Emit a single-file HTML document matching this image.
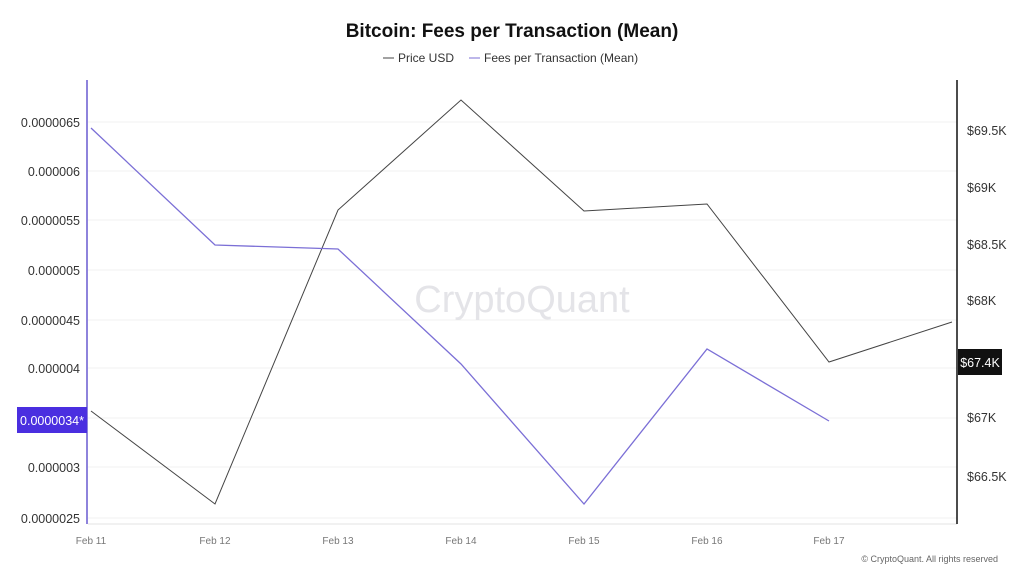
<!DOCTYPE html>
<html><head><meta charset="utf-8"><style>
body{margin:0;width:1024px;height:576px;background:#fff;overflow:hidden;font-family:"Liberation Sans",sans-serif}
</style></head><body>
<svg width="1024" height="576" xmlns="http://www.w3.org/2000/svg" font-family="Liberation Sans, sans-serif">
<text x="512" y="37" text-anchor="middle" font-size="19" font-weight="bold" fill="#111">Bitcoin: Fees per Transaction (Mean)</text>
<line x1="383" y1="58" x2="394" y2="58" stroke="#444" stroke-width="1"/>
<text x="398" y="62" font-size="12" fill="#333">Price USD</text>
<line x1="469" y1="58" x2="480" y2="58" stroke="#7b6fd6" stroke-width="1"/>
<text x="484" y="62" font-size="12" fill="#333">Fees per Transaction (Mean)</text>
<g stroke="#f0f0f0" stroke-width="1">
<line x1="88" y1="122" x2="957" y2="122"/><line x1="88" y1="171" x2="957" y2="171"/>
<line x1="88" y1="220" x2="957" y2="220"/><line x1="88" y1="270" x2="957" y2="270"/>
<line x1="88" y1="320" x2="957" y2="320"/><line x1="88" y1="368" x2="957" y2="368"/>
<line x1="88" y1="418" x2="957" y2="418"/><line x1="88" y1="467" x2="957" y2="467"/>
<line x1="88" y1="518" x2="957" y2="518"/>
</g>
<line x1="88" y1="524" x2="957" y2="524" stroke="#e3e3e3"/>
<line x1="87" y1="80" x2="87" y2="524" stroke="#8e83dc" stroke-width="2"/>
<line x1="957" y1="80" x2="957" y2="524" stroke="#111" stroke-width="1.5"/>
<text x="522" y="312" text-anchor="middle" font-size="38" fill="#e4e4e8">CryptoQuant</text>
<g font-size="12.5" fill="#333" text-anchor="end">
<text x="80" y="127">0.0000065</text><text x="80" y="176">0.000006</text>
<text x="80" y="225">0.0000055</text><text x="80" y="275">0.000005</text>
<text x="80" y="325">0.0000045</text><text x="80" y="373">0.000004</text>
<text x="80" y="472">0.000003</text><text x="80" y="523">0.0000025</text>
</g>
<g font-size="12.5" fill="#333">
<text x="967" y="135">$69.5K</text><text x="967" y="192">$69K</text>
<text x="967" y="249">$68.5K</text><text x="967" y="305">$68K</text>
<text x="967" y="422">$67K</text><text x="967" y="481">$66.5K</text>
</g>
<g font-size="10" fill="#777" text-anchor="middle">
<text x="91" y="544">Feb 11</text><text x="215" y="544">Feb 12</text><text x="338" y="544">Feb 13</text>
<text x="461" y="544">Feb 14</text><text x="584" y="544">Feb 15</text><text x="707" y="544">Feb 16</text>
<text x="829" y="544">Feb 17</text>
</g>
<text x="998" y="562" text-anchor="end" font-size="9" fill="#666">© CryptoQuant. All rights reserved</text>
<polyline fill="none" stroke="#444" stroke-width="1" points="91,411 215,504 338,210 461,100 584,211 707,204 829,362 952,322"/>
<polyline fill="none" stroke="#7b6fd6" stroke-width="1.3" points="91,128 215,245 338,249 461,364 584,504 707,349 829,421"/>
<rect x="17" y="407" width="70" height="26" fill="#4a2fe0"/>
<text x="52" y="425" text-anchor="middle" font-size="12.5" fill="#fff">0.0000034*</text>
<rect x="958" y="349" width="44" height="26" fill="#111"/>
<text x="980" y="367" text-anchor="middle" font-size="12.5" fill="#fff">$67.4K</text>
</svg>
</body></html>
